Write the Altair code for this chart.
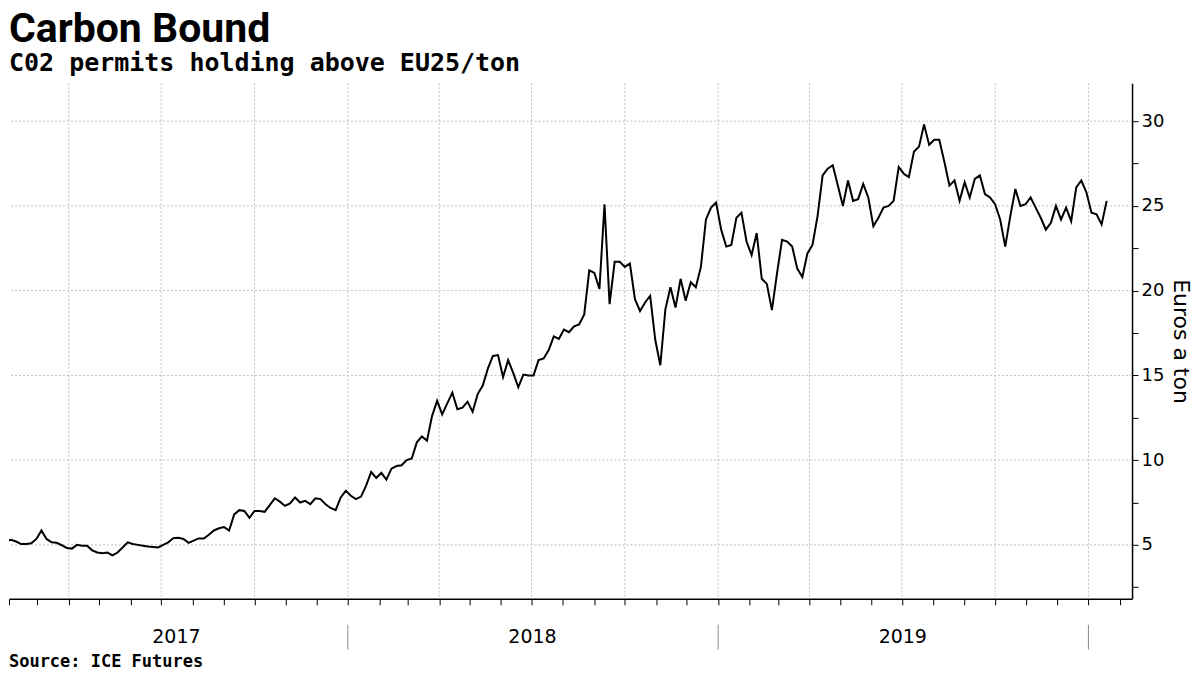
import altair as alt
import pandas as pd

title_text = "Carbon Bound"
subtitle_text = "C02 permits holding above EU25/ton"
source_text = ["Source: ICE Futures"]
y_title = "Euros a ton"

start_date = "2017-01-24"
step = "5D"
prices = [
    5.3, 5.2, 5.3, 5.2, 5.05, 5.05, 5.1, 5.35, 5.85, 5.35,
    5.15, 5.12, 4.98, 4.82, 4.78, 5.0, 4.95, 4.95, 4.68, 4.55,
    4.5, 4.55, 4.38, 4.55, 4.85, 5.15, 5.05, 5.0, 4.95, 4.9,
    4.88, 4.85, 5.0, 5.15, 5.4, 5.42, 5.35, 5.12, 5.25, 5.38,
    5.38, 5.6, 5.85, 5.98, 6.05, 5.85, 6.8, 7.05, 7.0, 6.6,
    7.0, 7.0, 6.95, 7.35, 7.75, 7.55, 7.3, 7.45,
    7.8, 7.5, 7.6, 7.4, 7.75, 7.7, 7.4, 7.18,
    7.05, 7.8, 8.2, 7.9, 7.7, 7.85, 8.5, 9.3, 8.95, 9.25,
    8.85, 9.5, 9.65, 9.7, 10.0, 10.1, 11.05, 11.4, 11.15, 12.6,
    13.5, 12.7, 13.35, 13.98, 13.0, 13.1, 13.45, 12.85, 13.9, 14.4,
    15.4, 16.15, 16.2, 14.9, 15.9, 15.15, 14.3, 15.05, 15.0, 15.0,
    15.9, 16.0, 16.5, 17.3, 17.15, 17.7,
    17.55, 17.9, 18.0, 18.6, 21.2, 21.05, 20.1, 25.1, 19.2, 21.7,
    21.7, 21.4, 21.6, 19.5, 18.8, 19.3, 19.7, 17.1, 15.6, 18.9,
    20.2, 19.0, 20.7, 19.4, 20.5, 20.2, 21.4, 24.2, 24.9, 25.2,
    23.6, 22.6, 22.7, 24.3, 24.6, 22.9, 22.1, 23.4, 20.7, 20.4,
    18.85, 21.0, 23.0, 22.9, 22.6, 21.3, 20.8, 22.2, 22.7, 24.4,
    26.8, 27.2, 27.4, 26.2, 25.0, 26.5,
    25.3, 25.4, 26.3, 25.5, 23.8, 24.3, 24.9, 25.0, 25.3, 27.3,
    26.9, 26.7, 28.2, 28.5, 29.8, 28.6, 28.9, 28.9, 27.6, 26.2,
    26.5, 25.3, 26.4, 25.5, 26.6, 26.8, 25.7, 25.5, 25.1, 24.2,
    22.6, 24.4, 26.0, 25.0, 25.1, 25.5, 24.9, 24.3, 23.6, 24.0,
    25.0, 24.2, 24.9, 24.1, 26.1, 26.5, 25.8, 24.6, 24.5, 23.9, 25.3,
]

year_labels = ["2017", "2018", "2019"]
year_label_dates = ["2017-07-16", "2018-07-02", "2019-07-02"]
year_bounds = ["2018-01-01", "2019-01-01", "2020-01-01"]
quarter_starts = [
    "2017-04-01", "2017-07-01", "2017-10-01", "2018-01-01",
    "2018-04-01", "2018-07-01", "2018-10-01", "2019-01-01",
    "2019-04-01", "2019-07-01", "2019-10-01", "2020-01-01",
]
y_grid = [5, 10, 15, 20, 25, 30]
y_ticks = [2.5, 5, 7.5, 10, 12.5, 15, 17.5, 20, 22.5, 25, 27.5, 30]
y_domain = [1.82, 32.24]

W, H = 1124, 516


def ts(s):
    return pd.Timestamp(s).strftime("%Y-%m-%dT00:00:00")


dates = pd.date_range(start_date, periods=len(prices), freq=step)
df = pd.DataFrame({"date": [d.strftime("%Y-%m-%dT00:00:00") for d in dates], "price": prices})

month_ticks = [alt.DateTime(year=d.year, month=d.month, date=1)
               for d in pd.date_range("2017-02-01", "2020-02-01", freq="MS")]

xscale = alt.Scale(domain=[alt.DateTime(year=2017, month=2, date=1),
                           alt.DateTime(year=2020, month=2, date=13)], nice=False)
yscale = alt.Scale(domain=y_domain, nice=False, zero=False)

xaxis = alt.Axis(values=month_ticks, labels=False, grid=False, title=None,
                 tickSize=6, tickColor="black", domainColor="black",
                 domainWidth=1.5, tickWidth=1)
yaxis = alt.Axis(orient="right", values=y_ticks, grid=False,
                 labelExpr="datum.value % 5 == 0 ? datum.label : ''",
                 tickSize=6, tickColor="black", domainColor="black",
                 domainWidth=1.5, labelFont="DejaVu Sans", labelFontSize=18,
                 labelColor="black", labelPadding=3,
                 title=y_title, titleFont="DejaVu Sans", titleFontSize=22,
                 titleFontWeight="normal", titleColor="black",
                 titleAngle=90, titlePadding=5)

grid_color = "#bfbfbf"

vgrid = alt.Chart(pd.DataFrame({"d": [ts(s) for s in quarter_starts]})).mark_rule(
    color=grid_color, strokeDash=[2, 2], strokeWidth=1
).encode(x=alt.X("d:T", scale=xscale, axis=xaxis))

hgrid = alt.Chart(pd.DataFrame({"v": y_grid})).mark_rule(
    color=grid_color, strokeDash=[2, 2], strokeWidth=1
).encode(y=alt.Y("v:Q", scale=yscale, axis=yaxis))

line = alt.Chart(df).mark_line(color="black", strokeWidth=2, clip=True).encode(
    x=alt.X("date:T", scale=xscale, axis=xaxis),
    y=alt.Y("price:Q", scale=yscale, axis=yaxis),
)

years = alt.Chart(pd.DataFrame({"d": [ts(s) for s in year_label_dates], "t": year_labels})).mark_text(
    font="DejaVu Sans", fontSize=19, color="black", baseline="middle", align="center"
).encode(x=alt.X("d:T", scale=xscale, axis=xaxis), y=alt.value(H + 38), text="t:N")

seps = alt.Chart(pd.DataFrame({"d": [ts(s) for s in year_bounds]})).mark_rule(
    color="#8c8c8c", strokeWidth=1
).encode(x=alt.X("d:T", scale=xscale, axis=xaxis), y=alt.value(H + 26), y2=alt.value(H + 51))

src = alt.Chart(pd.DataFrame({"t": source_text})).mark_text(
    font="DejaVu Sans Mono", fontSize=17, fontWeight="bold", color="black",
    align="left", baseline="middle"
).encode(x=alt.value(0), y=alt.value(H + 63), text="t:N")

chart = alt.layer(vgrid, hgrid, line, years, seps, src).properties(
    width=W, height=H,
    padding={"left": 0, "top": 0, "right": 0, "bottom": 0},
    title=alt.TitleParams(
        text=title_text, subtitle=subtitle_text, anchor="start", frame="group",
        font="Roboto", fontSize=41, fontWeight="bold", color="black",
        subtitleFont="DejaVu Sans Mono", subtitleFontSize=25,
        subtitleFontWeight="bold", subtitleColor="black",
        subtitlePadding=0, offset=6,
    ),
).configure(background="white").configure_view(stroke=None)

chart.save("out.html", embed_options={"renderer": "svg", "actions": False})
